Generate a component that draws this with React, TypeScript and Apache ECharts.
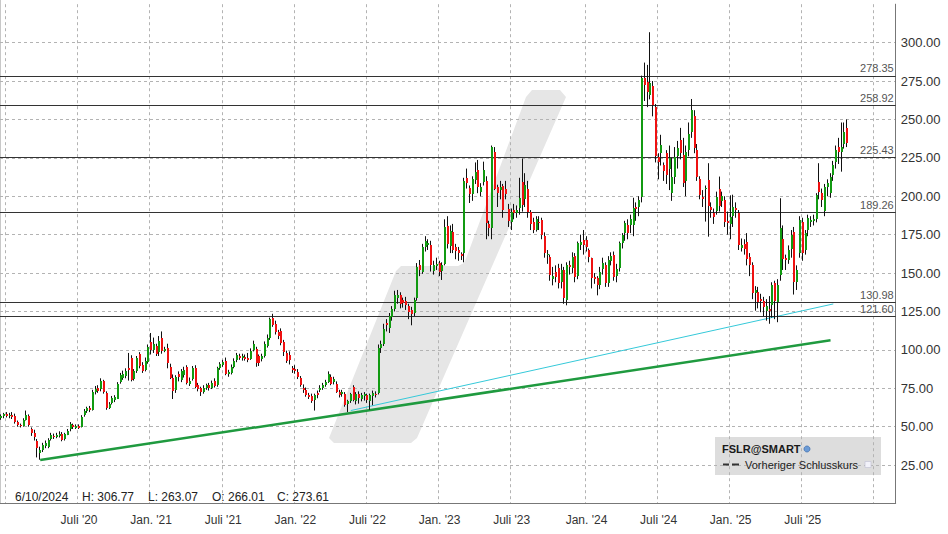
import React, { useEffect, useRef } from 'react';
import * as echarts from 'echarts';

const FONT = '"Liberation Sans", Arial, Helvetica, sans-serif';

// weekly categories start on this Monday
const firstWeek = '2019-12-16';
const weekCount = 323;

// weekly candles [open, close, low, high]
const candles2020 = [
  [55.5, 57, 54.5, 58], [56.5, 58, 55.5, 59], [58, 57, 56, 59.5], [57, 57.5, 55.5, 59], [57.5, 56.5, 55, 59.5],
  [57, 53, 52, 58.5], [53, 51, 50, 54], [51, 50.5, 49.5, 52], [50.5, 54.5, 50, 55.5], [54.5, 57.5, 54, 60.5],
  [57, 51, 50, 58], [48.5, 46, 44, 49.5], [46, 43.5, 41, 48], [40.5, 36, 30, 42], [33, 35, 28.5, 37],
  [35, 38, 33.5, 39.5], [37.5, 39.5, 36, 41], [37, 41.5, 36, 42.5], [42, 44.5, 41, 46], [44, 43.5, 42, 45.5],
  [43.5, 44.5, 42.5, 46], [44.5, 45.5, 43, 47], [45.5, 41.5, 40.5, 46.5], [42, 45, 41, 46], [45, 47.5, 44.5, 48.5],
  [48, 51.5, 47, 53], [51, 49.5, 48.5, 52], [49.5, 50.5, 48.5, 51.5], [50.5, 49.5, 48.5, 51.5], [50, 56.5, 49.5, 57.5],
  [57.5, 60, 56.5, 61.5], [60, 62, 59, 63], [62, 61, 59.5, 63.5], [61, 72.5, 60.5, 74], [72.5, 74.5, 71, 76.5],
  [75.5, 73.5, 72, 77], [74, 79.5, 73, 81.5], [79.5, 72.5, 71.5, 80.5], [72, 62.5, 61, 73], [62.5, 65, 61.5, 66],
  [65, 68.5, 64.5, 70], [67, 69, 66, 70.5], [68.5, 78, 68, 79], [79, 83.5, 78, 85], [82, 84.5, 80.5, 86.5],
  [83, 86, 81.5, 88], [88.5, 87.5, 80, 98], [95, 80.5, 79.5, 96.5], [81, 86, 80, 87.5], [86, 94.5, 85, 96],
  [97, 89.5, 88, 98.5], [90, 86, 85, 92], [87, 93, 86, 95], [92, 102, 91, 103.5],
];
const candles2021 = [
  [105, 99.5, 97, 111], [100, 104, 98, 108], [102.5, 97.5, 96, 104], [99, 106, 96, 109], [108, 99.5, 97.5, 112],
  [99, 100.5, 98.5, 102], [101, 91, 88, 104], [89, 82, 81, 91], [82, 73.5, 68, 84], [74, 82.5, 72, 83.5],
  [84, 82, 79.5, 86], [80, 86, 79, 87.5], [84, 87, 82, 89], [89, 78.5, 77.5, 90], [78, 80, 76.5, 82],
  [81, 88, 80, 89.5], [88.5, 76, 75, 90], [77, 74.5, 73, 78.5], [75, 72.5, 70, 76], [73, 75.5, 71.5, 77],
  [75, 77, 74, 78], [77, 75, 73.5, 78.5], [75, 78.5, 74.5, 80], [80, 77, 75.5, 81.5], [77, 88, 76, 89],
  [88, 90.5, 87, 92], [90, 92, 89, 93.5], [93, 84.5, 83.5, 95], [84, 85.5, 82.5, 87], [85, 89, 84, 90.5],
  [89, 93, 88, 94.5], [93, 96.5, 92, 98], [96, 95, 93.5, 97.5], [94.5, 96, 93, 97.5], [95.5, 94.5, 93, 97],
  [95, 94, 92, 98], [94.5, 99.5, 93.5, 101], [100, 104, 99, 106], [100.5, 91.5, 89, 102], [96, 91.5, 89.5, 97],
  [94, 96, 92.5, 97.5], [96, 104, 95, 105.5], [103, 108, 101.5, 110], [107.5, 120, 106.5, 121], [121, 116.5, 115, 123.5],
  [117, 111.5, 110, 119], [111.5, 109, 107, 113], [112.5, 104.5, 103, 114], [105, 98.5, 96, 106.5], [98, 93, 91.5, 99.5],
  [96.5, 93.5, 90.5, 99], [88, 86.5, 85, 89.5],
];
const candles2022 = [
  [87.5, 86, 84.5, 90], [85.8, 82.5, 81, 87.5], [81.5, 77, 76, 83], [75, 74, 72, 77.5], [74, 70.5, 69.5, 75.5],
  [70.5, 69.5, 68, 72], [70, 67, 65.5, 71.5], [67.5, 70.5, 60.5, 71.5], [72, 70.5, 68.5, 73.5], [74, 75.5, 72.5, 77],
  [75, 77, 74, 78.5], [77, 79, 76, 80.5], [79, 84, 78.5, 86], [82.5, 78, 77, 84], [79, 81, 77.5, 82.5],
  [78, 73, 72, 79.5], [72.7, 70.8, 69, 74], [71, 72.5, 69.5, 74], [71.5, 64.5, 63, 72.5], [64.5, 66.5, 59.5, 67.5],
  [66.5, 71, 65.5, 72], [76, 67.5, 66.5, 77], [67, 71.5, 64.5, 72.5], [71, 68.5, 65, 73], [68, 70.5, 66.5, 72],
  [70, 71.5, 67, 72.5], [70.5, 67, 65.5, 71.5], [66.5, 70.5, 61, 71.5], [70, 72, 64, 73.5], [71.5, 71, 69, 73],
  [72, 101.5, 71, 103.5], [101, 103.5, 98, 106], [104, 113.5, 102.5, 117], [117.5, 116, 112, 120], [114, 122, 111, 124],
  [121, 126.5, 119, 128.5], [126.5, 135.5, 125, 138.5], [133.5, 135.5, 130, 139], [136, 130, 127, 137.5], [132.5, 130.5, 127.5, 134],
  [132, 129.5, 126, 134.5], [128.5, 124.5, 120, 130], [126, 123.5, 116, 128], [124, 132.5, 122, 134], [134, 154, 132, 156.5],
  [155, 151.5, 148, 158.5], [151, 167, 149.5, 169], [167, 171, 164, 174], [168, 169.5, 165, 172], [168, 155, 151, 171],
  [151, 155, 149, 158], [155, 156, 152, 160],
];
const candles2023 = [
  [156.5, 150.5, 148, 158], [151, 155, 145.5, 157], [156, 180, 155, 185], [180.5, 168.5, 166, 187], [168, 177.5, 163, 181],
  [177, 165.5, 163, 182], [167, 164.5, 159, 169], [165, 163, 158, 167], [162.5, 161, 158.5, 163.5], [163, 210, 157, 212],
  [211.7, 208.5, 205, 218], [205.2, 201, 195.6, 207], [201, 211, 197, 213], [211, 216, 208, 222], [217, 206, 202, 223.6],
  [203, 206.3, 200, 208.5], [209, 217, 207, 222.5], [210, 182.4, 172, 213], [182, 179.5, 174, 184], [179.5, 232, 172, 233],
  [229, 205, 204, 232], [206, 202, 193, 207.5], [204, 206, 198, 210], [206.5, 191, 186, 208], [205, 202, 198, 210],
  [192, 184.5, 180, 195], [183.5, 190, 178, 192], [191, 189.3, 185, 195], [189.3, 191, 186, 194], [192, 198.7, 188, 212],
  [209.5, 194.3, 190, 224.5], [198, 207, 193, 215], [205, 190, 186, 210], [190, 182.4, 178, 191], [183.5, 178.1, 176, 186],
  [178, 185, 177, 187], [183.5, 183, 178, 187], [184.6, 174.8, 172, 186], [174.2, 162.9, 160, 176.5], [161.8, 162.5, 156, 165],
  [160.7, 148.8, 145, 162], [146.5, 148.3, 142, 154], [151, 148, 144, 155], [153, 143.4, 140, 156], [144.4, 152, 140, 156],
  [152, 133.6, 130, 154], [132.5, 155.3, 129, 157], [155.3, 153.8, 149, 158], [153.5, 160.7, 150, 163.5], [161.3, 147.7, 144, 163],
  [147.7, 169.4, 146, 170.5], [168.3, 170.4, 165, 175],
];
const candles2024 = [
  [171.5, 168.3, 162, 178], [171.5, 167, 164, 174], [165, 160.7, 157, 166], [159.6, 146.6, 140, 160], [147.5, 146.3, 143, 150],
  [146.6, 142.2, 135.5, 148], [142.2, 150.9, 139.5, 154], [153, 156.8, 149, 160], [155.3, 143.3, 141, 157], [143.3, 158.5, 141, 161],
  [158, 161, 155, 163.5], [161.8, 147.7, 145, 164], [147.7, 152.5, 144, 156], [153, 169.4, 151, 170.5], [169.4, 174.8, 166, 176],
  [176, 182.8, 171, 184], [181.5, 176, 172, 185], [181.3, 185, 176, 188], [180.9, 192.2, 174, 199], [192.8, 191.5, 184, 196],
  [193.2, 197.6, 187, 200], [199.3, 276.8, 196, 278.5], [276.8, 272.5, 262, 287], [274.2, 268, 258, 285.5], [266.01, 273.61, 263.07, 306.77],
  [272, 259.5, 252, 275], [257.9, 225.8, 222, 260], [225.8, 222.5, 211, 228], [228, 233.4, 220, 240], [220.4, 216.7, 210, 222],
  [228, 213.9, 208, 230], [217.6, 224.7, 204, 233], [202, 212.4, 197, 225], [212.8, 225.8, 208, 232], [225.8, 231.2, 218, 236],
  [236.7, 228, 224, 244.5], [226.9, 208.9, 206, 238], [210.2, 229, 200, 233], [230.1, 240.6, 226, 248], [242, 256.2, 238, 263.3],
  [252.2, 231.2, 228, 256], [230.1, 212.4, 210, 234], [211, 200.8, 198, 213], [199.7, 198.7, 193, 204], [204.4, 205.2, 183.5, 207],
  [210.6, 194, 173.7, 221.5], [193.2, 191, 186, 196], [189, 186.7, 182, 192], [191, 199.8, 188, 203], [205, 194, 190, 212.8],
  [197, 200, 193, 203], [197.6, 183.5, 180, 200],
];
const candles2025 = [
  [184, 182.5, 175, 190], [182, 186.7, 172, 200.6], [186.7, 192.7, 180, 201], [192.2, 191, 186, 196], [188.9, 168.3, 165, 191],
  [166.6, 168.3, 164, 172.5], [169, 166, 162, 172], [170.4, 159.6, 155, 176], [160.7, 155.3, 148, 163], [155.3, 136.8, 133, 157],
  [136.8, 139, 125.5, 141.5], [137.8, 131.4, 127, 141], [133, 131.4, 124.5, 136.5], [132, 128.1, 122, 134.5], [125.7, 128.7, 119, 133],
  [126.5, 125, 117, 135], [129.2, 142.3, 121, 144], [143.3, 131.4, 120, 145], [131.4, 142.3, 118, 146], [148.8, 179.2, 145, 198.7],
  [172, 159, 152, 181], [159.5, 158, 152, 162], [158.5, 165, 156, 168], [166, 174.8, 160, 178], [177, 144.4, 136, 180],
  [144.4, 152, 139, 155], [163, 184.6, 160, 187], [183.5, 163, 158, 186], [165, 175.9, 162, 178], [178, 185.7, 174, 188],
  [183.5, 184.6, 180, 187], [183.5, 185, 181, 188], [185, 200.8, 183, 202], [209.5, 203, 198, 221.5], [201.9, 197.6, 193, 205],
  [191, 206.3, 187, 208], [206, 208.5, 200, 211], [202.3, 212.8, 199, 215], [213.9, 220.4, 210, 223], [222.5, 230, 218, 233],
  [232.3, 229, 221, 238], [229, 232.3, 216, 248], [234.5, 242, 231, 248], [244.3, 234.5, 232, 250],
];

const levelLines = [278.35, 258.92, 225.43, 189.26, 130.98, 121.6];

const gridDates = [
  '2020-01-01', '2020-07-01', '2021-01-01', '2021-07-01', '2022-01-01', '2022-07-01', '2023-01-01',
  '2023-07-01', '2024-01-01', '2024-07-01', '2025-01-01', '2025-07-01', '2026-01-01',
];
const tickLabels = [
  '', "Juli '20", "Jan. '21", "Juli '21", "Jan. '22", "Juli '22", "Jan. '23",
  "Juli '23", "Jan. '24", "Juli '24", "Jan. '25", "Juli '25", '',
];

// trend lines: [week index, price]
const supportLine = [[14, 28.3], [299, 106.2]];
const channelLine = [[126, 60.5], [300, 129.9]];

const infoDateText = '6/10/2024';
const infoWeek = '2024-06-10';
const legendTitle = 'FSLR@SMART';
const legendItem = 'Vorheriger Schlusskurs';

const DAY = 86400000;
const startMs = Date.parse(firstWeek + 'T00:00:00Z');
const weekIndex = (d: string) => Math.floor((Date.parse(d + 'T00:00:00Z') - startMs) / (7 * DAY));

const categories: string[] = [];
for (let i = 0; i < weekCount; i++) {
  categories.push(new Date(startMs + i * 7 * DAY).toISOString().slice(0, 10));
}

const allCandles = [...candles2020, ...candles2021, ...candles2022, ...candles2023, ...candles2024, ...candles2025];
const candleData = allCandles.map((d, i) => [i, d[0], d[1], d[2], d[3]]);

const gridSet = new Set(gridDates.map(weekIndex));
const labelMap = new Map<number, string>();
gridDates.forEach((d, i) => {
  if (tickLabels[i]) labelMap.set(weekIndex(d), tickLabels[i]);
});

const info = allCandles[weekIndex(infoWeek)];

export default function App() {
  const ref = useRef<HTMLDivElement>(null);
  useEffect(() => {
    if (!ref.current) return;
    const chart = echarts.init(ref.current, null, { renderer: 'svg' });
    const dash = { color: '#b3b3b3', width: 1, type: [3, 3] as any };
    const option: any = {
      animation: false,
      textStyle: { fontFamily: FONT },
      grid: { left: 0, right: 52.3, top: 4.2, bottom: 30.5, containLabel: false },
      xAxis: {
        type: 'category',
        data: categories,
        boundaryGap: true,
        axisLine: { show: true, lineStyle: { color: '#777', width: 1 } },
        axisTick: { show: false },
        axisLabel: {
          interval: (index: number) => labelMap.has(index),
          formatter: (_v: string, index: number) => labelMap.get(index) ?? '',
          color: '#333',
          fontSize: 12,
          fontFamily: FONT,
          margin: 10,
        },
        splitLine: { show: true, interval: (index: number) => gridSet.has(index), lineStyle: dash },
      },
      yAxis: {
        type: 'value',
        position: 'right',
        min: 0,
        max: 325,
        interval: 25,
        axisLine: { show: true, lineStyle: { color: '#777', width: 1 } },
        axisTick: { show: false },
        axisLabel: {
          formatter: (v: number) => (v <= 0 || v > 300 ? '' : v.toFixed(2)),
          color: '#333',
          fontSize: 13,
          fontFamily: FONT,
          margin: 5,
        },
        splitLine: { show: true, showMaxLine: false, lineStyle: dash },
      },
      series: [
        {
          type: 'line',
          name: 'support',
          data: supportLine,
          symbol: 'none',
          z: 3,
          lineStyle: { color: '#1f9a3f', width: 2.5 },
          silent: true,
          markLine: {
            silent: true,
            symbol: ['none', 'none'],
            lineStyle: { color: '#333', width: 1, type: 'solid' },
            label: {
              show: true,
              position: 'insideEndTop',
              formatter: (p: any) => Number(p.value).toFixed(2),
              color: '#555',
              fontSize: 11,
              fontFamily: FONT,
              distance: [2, 2],
            },
            data: levelLines.map((v) => ({ yAxis: v })),
          },
        },
        {
          type: 'line',
          name: 'channel',
          data: channelLine,
          symbol: 'none',
          z: 3,
          lineStyle: { color: '#35c9d9', width: 1 },
          silent: true,
        },
        {
          type: 'custom',
          name: 'FSLR',
          z: 5,
          data: candleData,
          encode: { x: 0, y: [1, 2, 3, 4] },
          clip: true,
          renderItem: (_params: any, api: any) => {
            const i = api.value(0);
            const o = api.value(1);
            const c = api.value(2);
            const l = api.value(3);
            const h = api.value(4);
            const pO = api.coord([i, o]);
            const pC = api.coord([i, c]);
            const pH = api.coord([i, h]);
            const pL = api.coord([i, l]);
            const x = Math.round(pO[0]);
            const top = Math.round(Math.min(pO[1], pC[1]));
            const bh = Math.max(Math.round(Math.abs(pO[1] - pC[1])), 1);
            return {
              type: 'group',
              children: [
                {
                  type: 'line',
                  shape: { x1: x - 0.5, y1: pH[1], x2: x - 0.5, y2: pL[1] },
                  style: { stroke: '#111', lineWidth: 1 },
                },
                {
                  type: 'rect',
                  shape: { x: x - 1, y: top, width: 2, height: bh },
                  style: { fill: c >= o ? '#119a11' : '#ee1111' },
                },
              ],
            };
          },
        },
      ],
      graphic: [
        {
          type: 'polygon',
          z: -10,
          silent: true,
          shape: {
            points: [
              [334, 443], [329, 438], [396, 271], [401, 266], [458, 266], [464, 263], [467, 256],
              [526, 97], [532, 90], [560, 90], [566, 97], [417, 438], [411, 443],
            ],
          },
          style: { fill: '#e6e6e6' },
        },
        {
          type: 'line',
          z: -9,
          silent: true,
          shape: { x1: 0.5, y1: 0, x2: 0.5, y2: 503.5 },
          style: { stroke: '#c8c8c8', lineWidth: 1 },
        },
        {
          type: 'rect',
          z: -9,
          silent: true,
          shape: { x: 715, y: 437, width: 166, height: 38 },
          style: { fill: '#dddddd' },
        },
        {
          type: 'text',
          z: 20,
          x: 722,
          y: 449,
          style: { text: legendTitle, fontSize: 11, fontWeight: 'bold', fontFamily: FONT, fill: '#1a1a1a', verticalAlign: 'middle' },
        },
        {
          type: 'circle',
          z: 20,
          shape: { cx: 807, cy: 449, r: 3 },
          style: { fill: '#6b9bd6', stroke: '#3e6fb0', lineWidth: 0.8 },
        },
        {
          type: 'line',
          z: 20,
          shape: { x1: 723, y1: 464.5, x2: 729, y2: 464.5 },
          style: { stroke: '#333', lineWidth: 2 },
        },
        {
          type: 'line',
          z: 20,
          shape: { x1: 732, y1: 464.5, x2: 739, y2: 464.5 },
          style: { stroke: '#333', lineWidth: 2 },
        },
        {
          type: 'text',
          z: 20,
          x: 745,
          y: 464.5,
          style: { text: legendItem, fontSize: 11, fontFamily: FONT, fill: '#222', verticalAlign: 'middle' },
        },
        {
          type: 'rect',
          z: 20,
          shape: { x: 865, y: 461.5, width: 6, height: 6 },
          style: { fill: '#f2f2fa', stroke: '#c8c8d8', lineWidth: 0.8 },
        },
        ...[
          [infoDateText, 15],
          ['H: ' + info[3].toFixed(2), 82],
          ['L: ' + info[2].toFixed(2), 148],
          ['O: ' + info[0].toFixed(2), 212],
          ['C: ' + info[1].toFixed(2), 277],
        ].map(([t, x]) => ({
          type: 'text',
          z: 20,
          x: x as number,
          y: 497,
          style: { text: t as string, fontSize: 12, fontFamily: FONT, fill: '#222', verticalAlign: 'middle' },
        })),
      ],
    };
    chart.setOption(option);
    return () => chart.dispose();
  }, []);
  return <div ref={ref} style={{ position: 'fixed', left: 0, top: 0, width: 948, height: 534, background: '#fff' }} />;
}
